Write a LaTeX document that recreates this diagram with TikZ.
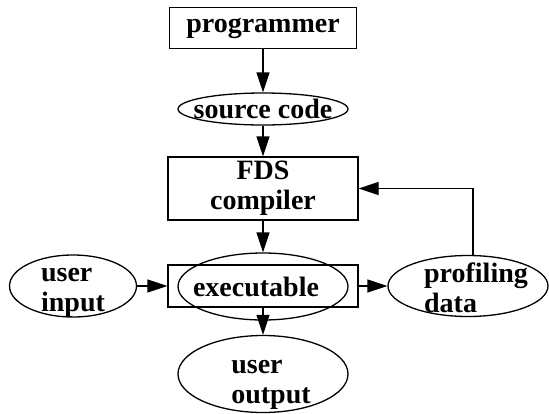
\documentclass[tikz,border=0pt]{standalone}
\usepackage{fontspec}
\setmainfont{Liberation Serif}
\usetikzlibrary{shapes.geometric,arrows.meta,positioning}

\begin{document}
\begin{tikzpicture}[x=1pt, y=-1pt,
    font=\fontsize{28}{30}\selectfont\bfseries,
    box/.style={rectangle, draw, line width=1.3pt, inner sep=0pt, align=center},
    blob/.style={ellipse, draw, line width=1.3pt, inner sep=0pt},
    every label/.style={inner sep=0pt, align=left},
    flow/.style={-{Triangle[length=20pt,width=13pt]}, line width=1.3pt}
]
    \useasboundingbox (0,0) rectangle (549,413);

    % Boxes
    \node[box, minimum width=187pt, minimum height=41pt] (prog) at (263,28) {programmer};
    \node[box, minimum width=190pt, minimum height=63pt] (comp) at (263,188.5) {FDS\\compiler};
    \node[box, minimum width=190pt, minimum height=42pt] (exbox) at (263,286) {};

    % Ellipses
    \node[blob, minimum width=170pt, minimum height=32pt, label=center:{source code}] (src) at (263,109) {};
    \node[blob, minimum width=170pt, minimum height=67pt, label={[xshift=-7pt]center:executable}] (exec) at (263,286.5) {};
    \node[blob, minimum width=127pt, minimum height=62pt, label={[yshift=-7pt]center:{user\\input}}] (in) at (73,286) {};
    \node[blob, minimum width=160pt, minimum height=61pt, label={[xshift=8pt,yshift=-2pt]center:{profiling\\data}}] (prof) at (468,286) {};
    \node[blob, minimum width=170pt, minimum height=77pt, label={[xshift=8pt,yshift=-11pt]center:{user\\output}}] (out) at (263,374) {};

    % Connections
    \draw[flow] (prog) -- (src);
    \draw[flow] (src) -- (comp);
    \draw[flow] (comp) -- (exec);
    \draw[flow] (in) -- (exbox);
    \draw[flow] (exbox) -- (prof);
    \draw[flow] (exbox) -- (out);
    \draw[flow] ([xshift=5pt]prof.north) |- (comp.east);
\end{tikzpicture}
\end{document}
